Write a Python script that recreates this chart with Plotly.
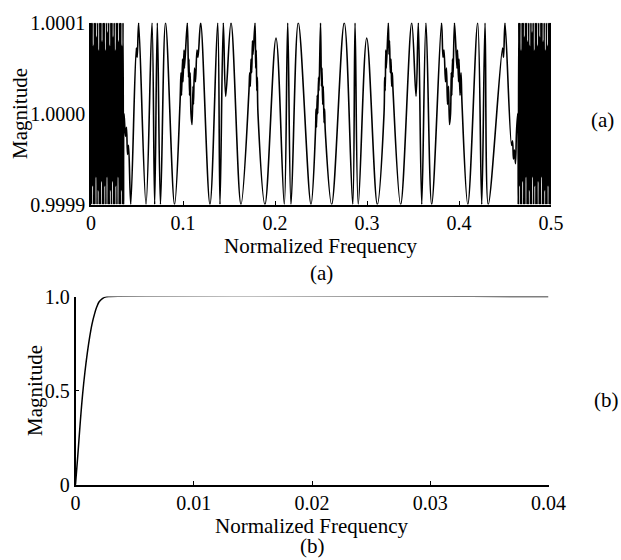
import plotly.graph_objects as go

# ---------------- Data: panel (a) ----------------
# deviation values are in units of 1e-4 around magnitude 1.0
dense_left_x = [
    0.0000, 0.0006, 0.0012, 0.0018, 0.0024, 0.0030, 0.0036, 0.0042, 0.0048, 0.0054,
    0.0060, 0.0066, 0.0072, 0.0078, 0.0084, 0.0090, 0.0096, 0.0102, 0.0108, 0.0114,
    0.0120, 0.0126, 0.0132, 0.0138, 0.0144, 0.0150, 0.0156, 0.0162, 0.0168, 0.0174,
    0.0180, 0.0186, 0.0192, 0.0198, 0.0204, 0.0210, 0.0216, 0.0222, 0.0228, 0.0234,
    0.0240, 0.0246, 0.0252, 0.0258, 0.0264, 0.0270, 0.0276, 0.0282, 0.0288, 0.0294,
    0.0300, 0.0306, 0.0312, 0.0318, 0.0324, 0.0330, 0.0336, 0.0342, 0.0348, 0.0354]
dense_left_dev = [
    1, -1, 1, -0.8, 0.75, -1, 1, -1, 1, -0.7, 0.85, -1, 1, -0.85, 0.7, -1, 1, -1, 1, -0.75,
    0.8, -1, 1, -1, 1, -0.8, 0.7, -1, 1, -0.7, 0.9, -1, 1, -1, 0.75, -0.85, 1, -1, 1, -0.75,
    0.85, -1, 1, -1, 0.7, -0.8, 1, -1, 1, -0.7, 0.8, -1, 1, -1, 1, -0.85, 0.75, -1, 1, -1]

mid_x = [
    0.0359, 0.0375, 0.0386, 0.0397, 0.0408, 0.0432, 0.0492, 0.0502, 0.0518, 0.0598,
    0.0663, 0.0692, 0.0721, 0.0755, 0.0810, 0.0908, 0.0967, 0.0978, 0.0984, 0.0995,
    0.1000, 0.1011, 0.1016, 0.1047, 0.1060, 0.1065, 0.1071, 0.1078, 0.1087, 0.1098,
    0.1109, 0.1114, 0.1125, 0.1136, 0.1152, 0.1163, 0.1192, 0.1293, 0.1377, 0.1402,
    0.1438, 0.1464, 0.1522, 0.1630, 0.1717, 0.1725, 0.1732, 0.1739, 0.1747, 0.1755,
    0.1761, 0.1783, 0.1790, 0.1796, 0.1802, 0.1808, 0.1815, 0.1891, 0.2011, 0.2101,
    0.2138, 0.2174, 0.2253, 0.2391, 0.2440, 0.2446, 0.2451, 0.2459, 0.2465, 0.2473,
    0.2478, 0.2495, 0.2505, 0.2511, 0.2518, 0.2525, 0.2533, 0.2539, 0.2547, 0.2616,
    0.2753, 0.2845, 0.2870, 0.2905, 0.2997, 0.3112, 0.3185, 0.3192, 0.3198, 0.3204,
    0.3210, 0.3232, 0.3239, 0.3245, 0.3253, 0.3261, 0.3268, 0.3275, 0.3283, 0.3366,
    0.3486, 0.3533, 0.3558, 0.3595, 0.3641, 0.3703, 0.3810, 0.3826, 0.3837, 0.3853,
    0.3864, 0.3875, 0.3886, 0.3897, 0.3908, 0.3916, 0.3922, 0.3929, 0.3935, 0.3951,
    0.3978, 0.3984, 0.3995, 0.4000, 0.4011, 0.4022, 0.4033, 0.4096, 0.4203, 0.4247,
    0.4283, 0.4318, 0.4473, 0.4484, 0.4500, 0.4571, 0.4582, 0.4592, 0.4603, 0.4614,
    0.4625, 0.4638]
mid_dev = [
    0.0, -0.25, -0.15, -0.45, -0.35, -1.0, 0.72, 0.62, 1.0, -1.0,
    1.0, -1.0, 1.0, -1.0, 1.0, -1.0, 0.1, 0.45, 0.2, 0.6,
    0.35, 0.7, 0.5, 1.0, 0.4, 0.6, 0.2, 0.45, 0.0, -0.12,
    0.3, 0.1, 0.5, 0.35, 0.7, 0.62, 1.0, -1.0, 1.0, -1.0,
    1.0, 0.19, 1.0, -1.0, 0.25, 0.45, 0.3, 0.6, 0.45, 0.8,
    0.65, 1.0, 0.5, 0.7, 0.25, 0.4, 0.0, -1.0, 0.83, -1.0,
    1.0, -1.0, 1.0, -1.0, -0.2, 0.05, -0.15, 0.2, 0.0, 0.4,
    0.25, 1.0, 0.3, 0.5, 0.1, 0.3, -0.1, 0.05, -0.2, -1.0,
    1.0, -1.0, 1.0, -1.0, 0.83, -1.0, 0.0, 0.4, 0.25, 0.7,
    0.5, 1.0, 0.65, 0.8, 0.45, 0.6, 0.3, 0.45, 0.25, -1.0,
    1.0, 0.19, 1.0, -1.0, 1.0, -1.0, 1.0, 0.62, 0.7, 0.35,
    0.5, 0.1, 0.3, -0.12, 0.0, 0.45, 0.2, 0.6, 0.4, 1.0,
    0.5, 0.7, 0.35, 0.6, 0.2, 0.45, 0.1, -1.0, 1.0, -1.0,
    1.0, -1.0, 0.72, 0.62, 1.0, -0.35, -0.3, -0.5, -0.4, -0.55,
    -0.2, 0.0]

dense_right_x = [
    0.4644, 0.4650, 0.4656, 0.4662, 0.4668, 0.4674, 0.4680, 0.4686, 0.4692, 0.4698,
    0.4704, 0.4710, 0.4716, 0.4722, 0.4728, 0.4734, 0.4740, 0.4746, 0.4752, 0.4758,
    0.4764, 0.4770, 0.4776, 0.4782, 0.4788, 0.4794, 0.4800, 0.4806, 0.4812, 0.4818,
    0.4824, 0.4830, 0.4836, 0.4842, 0.4848, 0.4854, 0.4860, 0.4866, 0.4872, 0.4878,
    0.4884, 0.4890, 0.4896, 0.4902, 0.4908, 0.4914, 0.4920, 0.4926, 0.4932, 0.4938,
    0.4944, 0.4950, 0.4956, 0.4962, 0.4968, 0.4974, 0.4980, 0.4986, 0.4992, 0.4998]
dense_right_dev = [
    -1, 1, -0.8, 1, -1, 0.7, -1, 1, -0.75, 1, -1, 0.85, -1, 1, -0.7, 1, -1, 0.8, -1, 1,
    -0.85, 0.75, -1, 1, -1, 0.9, -0.7, 1, -1, 0.7, -0.8, 1, -1, 1, -1, 0.75, -0.75, 1, -1, 0.85,
    -1, 1, -0.7, 1, -1, 0.8, -1, 1, -0.85, 0.7, -1, 1, -1, 0.75, -0.8, 1, -1, 1, -1, 1]

assert len(dense_left_x) == len(dense_left_dev)
assert len(mid_x) == len(mid_dev)
assert len(dense_right_x) == len(dense_right_dev)

freq_a = dense_left_x + mid_x + dense_right_x
mag_a = [1.0 + d * 1e-4 for d in (dense_left_dev + mid_dev + dense_right_dev)]

xticks_a = [0, 0.1, 0.2, 0.3, 0.4, 0.5]
xtick_text_a = ["0", "0.1", "0.2", "0.3", "0.4", "0.5"]
yticks_a = [0.9999, 1.0, 1.0001]
ytick_text_a = ["0.9999", "1.0000", "1.0001"]

# ---------------- Data: panel (b) ----------------
freq_b = [0, 0.0002, 0.0004, 0.0006, 0.0008, 0.0010, 0.0012, 0.0014, 0.0016,
          0.0018, 0.0020, 0.0023, 0.0026, 0.0029, 0.04]
mag_b = [0, 0.16, 0.33, 0.48, 0.60, 0.70, 0.785, 0.855, 0.905,
         0.945, 0.972, 0.99, 0.998, 1.0, 1.0]

xticks_b = [0, 0.01, 0.02, 0.03, 0.04]
xtick_text_b = ["0", "0.01", "0.02", "0.03", "0.04"]
yticks_b = [0, 0.5, 1.0]
ytick_text_b = ["0", "0.5", "1.0"]

# ---------------- Figure ----------------
W, H = 621, 560
FONT = "Liberation Serif, Times New Roman, serif"

fig = go.Figure()
fig.add_trace(go.Scatter(x=freq_a, y=mag_a, mode="lines", line_shape="spline",
                         line=dict(color="black", width=1.6, smoothing=1),
                         xaxis="x", yaxis="y", showlegend=False))
fig.add_trace(go.Scatter(x=freq_b, y=mag_b, mode="lines", line_shape="spline",
                         line=dict(color="black", width=1.5),
                         xaxis="x2", yaxis="y2", showlegend=False))


def px_x(p):
    return p / W


def px_y(p):
    return 1 - p / H


axis_common = dict(showline=True, linecolor="black", linewidth=1.5,
                   ticks="inside", ticklen=4, tickwidth=1, tickcolor="black",
                   showgrid=False, zeroline=False, automargin=False,
                   tickfont=dict(family=FONT, size=20, color="black"))

fig.update_layout(
    template="none",
    width=W, height=H, autosize=False,
    margin=dict(l=0, r=0, t=0, b=0, pad=0),
    paper_bgcolor="white", plot_bgcolor="white",
    font=dict(family=FONT, color="black"),
    xaxis=dict(domain=[px_x(91), px_x(551)], range=[0, 0.5], anchor="y",
               tickvals=xticks_a, ticktext=xtick_text_a, **axis_common),
    yaxis=dict(domain=[px_y(204.5), px_y(22.7)], range=[0.9999, 1.0001], anchor="x",
               tickvals=yticks_a, ticktext=ytick_text_a, **axis_common),
    xaxis2=dict(domain=[px_x(75.5), px_x(548.5)], range=[0, 0.04], anchor="y2",
                tickvals=xticks_b, ticktext=xtick_text_b, **axis_common),
    yaxis2=dict(domain=[px_y(484.7), px_y(296.5)], range=[0, 1.0], anchor="x2",
                tickvals=yticks_b, ticktext=ytick_text_b, **axis_common),
)

labels = [
    ("Normalized Frequency", 321, 246, 0),
    ("(a)", 321, 273, 0),
    ("Magnitude", 20, 114, -90),
    ("(a)", 602, 120, 0),
    ("Normalized Frequency", 312, 526, 0),
    ("(b)", 312, 546, 0),
    ("Magnitude", 35, 391, -90),
    ("(b)", 606, 400, 0),
]
for text, x, y, ang in labels:
    fig.add_annotation(text=text, x=px_x(x), y=px_y(y), xref="paper", yref="paper",
                       showarrow=False, textangle=ang, xanchor="center", yanchor="middle",
                       font=dict(family=FONT, size=21, color="black"))

# remove the default page margin so the 621x560 figure fills the window exactly
fig.write_html("out.html",
               config={"displayModeBar": False},
               post_script="document.body.style.margin='0';"
                           "document.body.style.overflow='hidden';")
